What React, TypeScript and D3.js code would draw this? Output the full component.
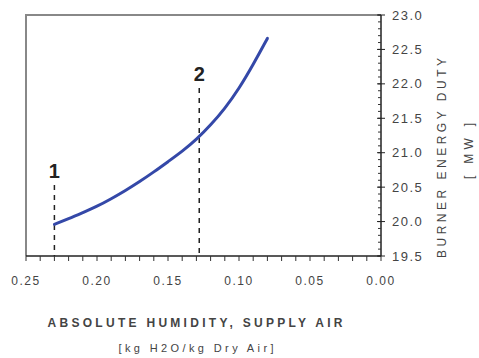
import { useMemo } from "react";
import * as d3 from "d3";

const WIDTH = 479;
const HEIGHT = 358;
const PLOT = { left: 26, right: 381, top: 15, bottom: 256 };

// absolute humidity (kg H2O / kg dry air) vs burner energy duty (MW)
const humidity = [0.23, 0.22, 0.21, 0.2, 0.19, 0.18, 0.17, 0.16, 0.15, 0.14, 0.13, 0.12, 0.11, 0.1, 0.09, 0.08];
const duty = [19.96, 20.04, 20.13, 20.22, 20.33, 20.45, 20.58, 20.72, 20.87, 21.02, 21.19, 21.4, 21.64, 21.93, 22.28, 22.66];

const xTicks = [0.25, 0.2, 0.15, 0.1, 0.05, 0.0];
const yTicks = [19.5, 20.0, 20.5, 21.0, 21.5, 22.0, 22.5, 23.0];

const markers = [
  { label: "1", x: 0.23, top: 185 },
  { label: "2", x: 0.128, top: 88 },
];

const FONT = "'Liberation Sans', Arial, sans-serif";
const TEXT = "#444";

export default function App() {
  const xScale = useMemo(
    () => d3.scaleLinear().domain([0.25, 0]).range([PLOT.left, PLOT.right]),
    []
  );
  const yScale = useMemo(
    () => d3.scaleLinear().domain([19.5, 23]).range([PLOT.bottom, PLOT.top]),
    []
  );

  const points = humidity.map((h, i) => [h, duty[i]] as [number, number]);
  const line = d3
    .line<[number, number]>()
    .x((d) => xScale(d[0]))
    .y((d) => yScale(d[1]))
    .curve(d3.curveBasis);

  const xMinor = d3.range(0, 26).map((i) => i / 100);
  const yMinor = d3.range(195, 231).map((i) => i / 10);

  return (
    <svg
      width={WIDTH}
      height={HEIGHT}
      style={{ position: "absolute", left: 0, top: 0, background: "#fff" }}
      fontFamily={FONT}
    >
      {/* frame: top + left in grey */}
      <path
        d={`M${PLOT.left},${PLOT.bottom} V${PLOT.top} H${PLOT.right}`}
        fill="none"
        stroke="#888"
        strokeWidth={2}
      />

      {/* x axis */}
      <line x1={PLOT.left} x2={PLOT.right} y1={PLOT.bottom} y2={PLOT.bottom} stroke="#222" strokeWidth={1.5} />
      {xMinor.map((v) => (
        <line key={"xm" + v} x1={xScale(v)} x2={xScale(v)} y1={PLOT.bottom} y2={PLOT.bottom + 5} stroke="#333" strokeWidth={1} />
      ))}
      {xTicks.map((v) => (
        <text
          key={"xt" + v}
          x={xScale(v)}
          y={PLOT.bottom + 29}
          textAnchor="middle"
          fontSize={12}
          letterSpacing={1.5}
          fill={TEXT}
        >
          {v.toFixed(2)}
        </text>
      ))}

      {/* y axis on the right */}
      <line x1={PLOT.right} x2={PLOT.right} y1={PLOT.top} y2={PLOT.bottom} stroke="#222" strokeWidth={1.5} />
      {yMinor.map((v) => (
        <line key={"ym" + v} x1={PLOT.right - 3} x2={PLOT.right} y1={yScale(v)} y2={yScale(v)} stroke="#333" strokeWidth={1} />
      ))}
      {yTicks.map((v) => (
        <g key={"yt" + v}>
          <line x1={PLOT.right - 4} x2={PLOT.right + 4} y1={yScale(v)} y2={yScale(v)} stroke="#222" strokeWidth={1} />
          <text
            x={PLOT.right + 11}
            y={yScale(v)}
            dy="0.35em"
            fontSize={13}
            letterSpacing={1.5}
            fill={TEXT}
          >
            {v.toFixed(1)}
          </text>
        </g>
      ))}

      {/* state markers */}
      {markers.map((m) => (
        <g key={m.label}>
          <line
            x1={xScale(m.x)}
            x2={xScale(m.x)}
            y1={m.top}
            y2={PLOT.bottom}
            stroke="#222"
            strokeWidth={1.5}
            strokeDasharray="5,5"
          />
          <text x={xScale(m.x)} y={m.top - 7} textAnchor="middle" fontSize={20} fontWeight="bold" fill="#222">
            {m.label}
          </text>
        </g>
      ))}

      {/* curve */}
      <path d={line(points) ?? ""} fill="none" stroke="#3448a8" strokeWidth={3} strokeLinecap="round" />

      {/* axis titles */}
      <text x={195} y={327} textAnchor="middle" fontSize={12} fontWeight="bold" fill={TEXT} textLength={295} lengthAdjust="spacing">
        ABSOLUTE HUMIDITY, SUPPLY AIR
      </text>
      <text x={196} y={352} textAnchor="middle" fontSize={11} fill={TEXT} textLength={155} lengthAdjust="spacing">
        [kg H2O/kg  Dry Air]
      </text>
      <g transform="translate(446,158) rotate(-90)">
        <text x={0} y={0} textAnchor="middle" fontSize={12} fill={TEXT} textLength={200} lengthAdjust="spacing">
          BURNER ENERGY DUTY
        </text>
      </g>
      <g transform="translate(473,151) rotate(-90)">
        <text x={0} y={0} textAnchor="middle" fontSize={12} fill={TEXT} textLength={56} lengthAdjust="spacing">
          [ MW ]
        </text>
      </g>
    </svg>
  );
}
